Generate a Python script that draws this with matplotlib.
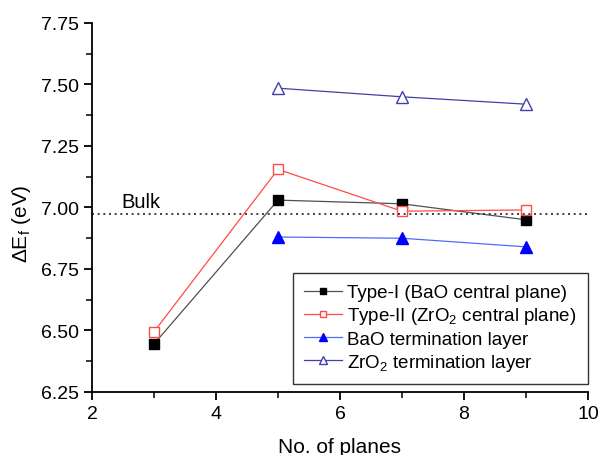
import matplotlib
matplotlib.use("Agg")
import matplotlib.pyplot as plt
from matplotlib.ticker import MultipleLocator, FormatStrFormatter

plt.rcParams['font.family'] = ['Liberation Sans', 'DejaVu Sans']
plt.rcParams['mathtext.fontset'] = 'custom'
plt.rcParams['mathtext.rm'] = 'Liberation Sans'
plt.rcParams['mathtext.it'] = 'Liberation Sans'

planes_all = [3, 5, 7, 9]
planes_term = [5, 7, 9]
type1 = [6.445, 7.03, 7.015, 6.95]
type2 = [6.495, 7.155, 6.985, 6.99]
bao_term = [6.88, 6.875, 6.84]
zro2_term = [7.485, 7.45, 7.42]
bulk = 6.975

labels = ['Type-I (BaO central plane)',
          'Type-II (ZrO$_2$ central plane)',
          'BaO termination layer',
          'ZrO$_2$ termination layer']

fig = plt.figure(figsize=(5.98, 4.56), dpi=100)
ax = fig.add_axes([92/598, 1-393/456, (588-92)/598, (393-24)/456])

ax.plot(planes_all, type1, color='#505050', lw=0.9, marker='s', ms=6.5,
        mfc='black', mec='black', label=labels[0])
ax.plot(planes_all, type2, color='#ff4a4a', lw=0.9, marker='s', ms=6.5,
        mfc='white', mec='#ff4a4a', label=labels[1])
ax.plot(planes_term, bao_term, color='#4d6bff', lw=0.9, marker='^', ms=8,
        mfc='#0000ff', mec='#0000ff', label=labels[2])
ax.plot(planes_term, zro2_term, color='#4040a8', lw=0.9, marker='^', ms=8,
        mfc='white', mec='#4040a8', label=labels[3])
ax.axhline(bulk, color='#222222', lw=1.2, ls=(0, (1.2, 2.2)))
ax.text(2.48, 7.0, 'Bulk', fontsize=14.5, va='baseline', ha='left')

ax.set_xlim(2, 10)
ax.set_ylim(6.25, 7.75)
ax.xaxis.set_major_locator(MultipleLocator(2))
ax.xaxis.set_minor_locator(MultipleLocator(1))
ax.yaxis.set_major_locator(MultipleLocator(0.25))
ax.yaxis.set_minor_locator(MultipleLocator(0.125))
ax.yaxis.set_major_formatter(FormatStrFormatter('%.2f'))
for s in ['top', 'right']:
    ax.spines[s].set_visible(False)
for s in ['left', 'bottom']:
    ax.spines[s].set_linewidth(1.3)
ax.tick_params(which='major', direction='out', length=6, width=1.3, labelsize=14)
ax.tick_params(which='minor', direction='out', length=4, width=1.1)
ax.set_xlabel('No. of planes', fontsize=15, labelpad=11)
ax.set_ylabel('$\\Delta$E$_f$ (eV)', fontsize=15, labelpad=8)
ax.yaxis.set_label_coords(-0.118, 0.46)

leg = ax.legend(loc='lower right', bbox_to_anchor=(1.0, 0.022), borderaxespad=0,
                fontsize=13.5, frameon=True, fancybox=False, edgecolor='black',
                borderpad=0.6, handlelength=2.0, labelspacing=0.22,
                handletextpad=0.3, markerscale=0.75)
leg.get_frame().set_linewidth(1.0)

fig.savefig('out.png', dpi=100)
